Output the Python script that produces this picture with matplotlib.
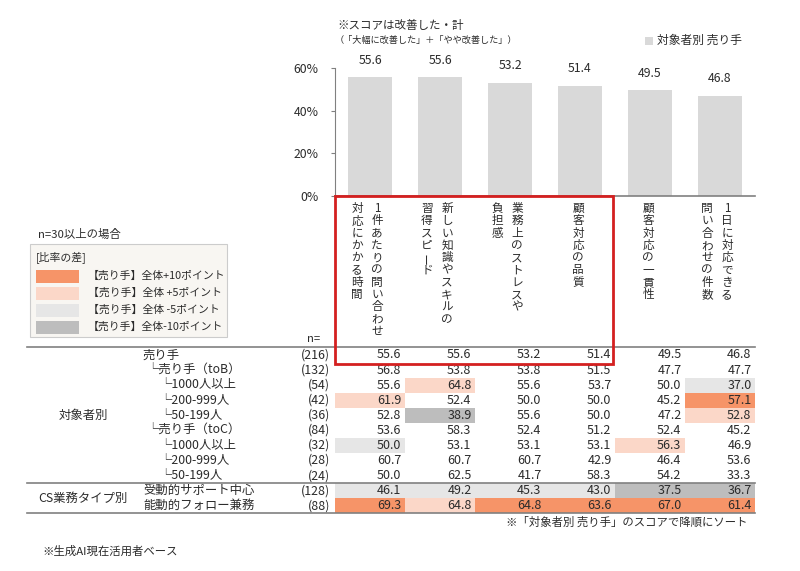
import matplotlib
matplotlib.use("Agg")
import matplotlib.pyplot as plt
from matplotlib.patches import Rectangle

plt.rcParams['font.family'] = ['Noto Sans CJK JP', 'DejaVu Sans']

# ---------------- data ----------------
cat_lines = [
    ["1件あたりの問い合わせ", "対応にかかる時間"],
    ["新しい知識やスキルの", "習得スピード"],
    ["業務上のストレスや", "負担感"],
    ["顧客対応の品質"],
    ["顧客対応の一貫性"],
    ["1日に対応できる", "問い合わせの件数"],
]
bar_values = [55.6, 55.6, 53.2, 51.4, 49.5, 46.8]
yticks = [0, 20, 40, 60]
ytick_labels = ["0%", "20%", "40%", "60%"]

row_labels = ["売り手", "└売り手（toB）", "└1000人以上", "└200-999人", "└50-199人",
              "└売り手（toC）", "└1000人以上", "└200-999人", "└50-199人",
              "受動的サポート中心", "能動的フォロー兼務"]
row_level = [0, 1, 2, 2, 2, 1, 2, 2, 2, 0, 0]
row_n = [216, 132, 54, 42, 36, 84, 32, 28, 24, 128, 88]
table = [
    [55.6, 55.6, 53.2, 51.4, 49.5, 46.8],
    [56.8, 53.8, 53.8, 51.5, 47.7, 47.7],
    [55.6, 64.8, 55.6, 53.7, 50.0, 37.0],
    [61.9, 52.4, 50.0, 50.0, 45.2, 57.1],
    [52.8, 38.9, 55.6, 50.0, 47.2, 52.8],
    [53.6, 58.3, 52.4, 51.2, 52.4, 45.2],
    [50.0, 53.1, 53.1, 53.1, 56.3, 46.9],
    [60.7, 60.7, 60.7, 42.9, 46.4, 53.6],
    [50.0, 62.5, 41.7, 58.3, 54.2, 33.3],
    [46.1, 49.2, 45.3, 43.0, 37.5, 36.7],
    [69.3, 64.8, 64.8, 63.6, 67.0, 61.4],
]
groups = [("対象者別", 0, 9), ("CS業務タイプ別", 9, 11)]
legend_labels = ["【売り手】全体+10ポイント", "【売り手】全体 +5ポイント",
                 "【売り手】全体 -5ポイント", "【売り手】全体-10ポイント"]

# ---------------- styles ----------------
C_P10 = "#F69468"
C_P5 = "#FBD7C8"
C_M5 = "#E6E6E6"
C_M10 = "#BDBDBD"
C_BAR = "#D9D9D9"
C_TXT = "#2B2B2B"
C_LINE = "#808080"
C_RED = "#D42020"

W, H = 800, 571
fig = plt.figure(figsize=(W / 100, H / 100), dpi=100)

# layout (pixels)
X0 = 335.0      # left edge of value columns
CW = 70.0       # column width
Y_BASE = 196.0  # bar baseline
Y_TOP = 68.0    # 60% line
R0 = 355.0      # first row centre
RH = 15.07      # row height
VPITCH = 12.3   # vertical text character pitch

# ---------------- bar chart ----------------
ax = fig.add_axes([X0 / W, 1 - Y_BASE / H, 6 * CW / W, (Y_BASE - Y_TOP) / H])
xs = list(range(len(bar_values)))
bars = ax.bar(xs, bar_values, width=0.615, color=C_BAR, zorder=2)
for x, v in zip(xs, bar_values):
    ax.annotate(f"{v:.1f}", (x, v), xytext=(0, 12.5), textcoords="offset points",
                ha="center", va="center", fontsize=8.8, color=C_TXT)
ax.set_xlim(-0.5, 5.5)
ax.set_ylim(0, 60)
ax.set_yticks(yticks)
ax.set_yticklabels(ytick_labels)
ax.set_xticks([])
ax.tick_params(axis="y", length=3, width=0.8, color=C_LINE, labelsize=8.8,
               labelcolor=C_TXT, pad=9)
for s in ["top", "right"]:
    ax.spines[s].set_visible(False)
ax.spines["left"].set_color(C_LINE)
ax.spines["left"].set_linewidth(0.8)
ax.spines["bottom"].set_color(C_LINE)
ax.spines["bottom"].set_linewidth(1.2)
ax.patch.set_alpha(0)

# ---------------- overlay (pixel coords) ----------------
ov = fig.add_axes([0, 0, 1, 1])
ov.set_xlim(0, W)
ov.set_ylim(H, 0)
ov.set_axis_off()

# titles
ov.text(337, 25, "※スコアは改善した・計", fontsize=8.3, color=C_TXT, va="center", ha="left")
ov.text(335, 40, "（「大幅に改善した」＋「やや改善した」）", fontsize=6.6, color=C_TXT,
        va="center", ha="left")
ov.add_patch(Rectangle((645, 37), 7.5, 7.5, color=C_BAR, lw=0))
ov.text(657, 40.5, "対象者別 売り手", fontsize=8.5, color=C_TXT, va="center", ha="left")

# vertical category labels (Japanese vertical writing: first line rightmost)
for j, lines in enumerate(cat_lines):
    cx = X0 + CW * j + CW / 2
    k = len(lines)
    for li, line in enumerate(lines):
        off = ((k - 1) / 2 - li) * 20.0
        xx = cx - 3 + off if k > 1 else cx - 2
        for ci, ch in enumerate(line):
            ov.text(xx, 208.5 + ci * VPITCH, ch, fontsize=8.4, color=C_TXT,
                    ha="center", va="center", rotation=90 if ch == "ー" else 0)

# legend box (left)
ov.text(38, 234, "n=30以上の場合", fontsize=8.2, color=C_TXT, va="center", ha="left")
ov.add_patch(Rectangle((30, 244), 197, 93, facecolor="#F8F6F2", edgecolor="#CCCCCC", lw=0.8))
ov.text(36, 258, "[比率の差]", fontsize=7.8, color=C_TXT, va="center", ha="left")
for i, (lab, col) in enumerate(zip(legend_labels, [C_P10, C_P5, C_M5, C_M10])):
    yc = 276 + i * 17.0
    ov.add_patch(Rectangle((36, yc - 6.5), 43, 13, color=col, lw=0))
    ov.text(88, yc, lab, fontsize=7.8, color=C_TXT, va="center", ha="left")

ov.text(320, 339, "n=", fontsize=8.2, color=C_TXT, va="center", ha="right")


def cell_color(v, ref, n):
    if n < 30:
        return None
    d = v - ref
    if d >= 10:
        return C_P10
    if d >= 5:
        return C_P5
    if d <= -10:
        return C_M10
    if d <= -5:
        return C_M5
    return None


# table
indent = {0: 143, 1: 146, 2: 159}
ref = table[0]
for i, (lab, lvl, n, vals) in enumerate(zip(row_labels, row_level, row_n, table)):
    yc = R0 + i * RH
    ov.text(indent[lvl], yc, lab, fontsize=8.9, color=C_TXT, va="center", ha="left")
    ov.text(330, yc, f"({n})", fontsize=8.9, color=C_TXT, va="center", ha="right")
    for j, v in enumerate(vals):
        col = cell_color(v, ref[j], n) if i > 0 else None
        if col:
            ov.add_patch(Rectangle((X0 + CW * j, yc - RH / 2), CW, RH, color=col, lw=0, zorder=1))
        ov.text(X0 + CW * j + 66.5, yc, f"{v:.1f}", fontsize=9.0, color=C_TXT,
                va="center", ha="right", zorder=3)

# group labels and lines
for name, a, b in groups:
    yc = R0 + ((a + b - 1) / 2) * RH
    ov.text(83, yc, name, fontsize=8.9, color=C_TXT, va="center", ha="center")
line_rows = [0, 9, 11]
for r in line_rows:
    yy = R0 + (r - 0.5) * RH
    ov.plot([27, X0 + 6 * CW], [yy, yy], color=C_LINE, lw=1.2, zorder=4)

# red highlight box
ov.add_patch(Rectangle((X0, Y_BASE), 4 * CW - 2, (R0 + RH / 2 + 1) - Y_BASE, fill=False,
                       edgecolor=C_RED, lw=2, zorder=5))

# footnotes
ov.text(748, 522, "※「対象者別 売り手」のスコアで降順にソート", fontsize=8.2, color=C_TXT,
        va="center", ha="right")
ov.text(42, 551, "※生成AI現在活用者ベース", fontsize=8.2, color=C_TXT, va="center", ha="left")

fig.savefig("out.png", dpi=100, facecolor="white")
